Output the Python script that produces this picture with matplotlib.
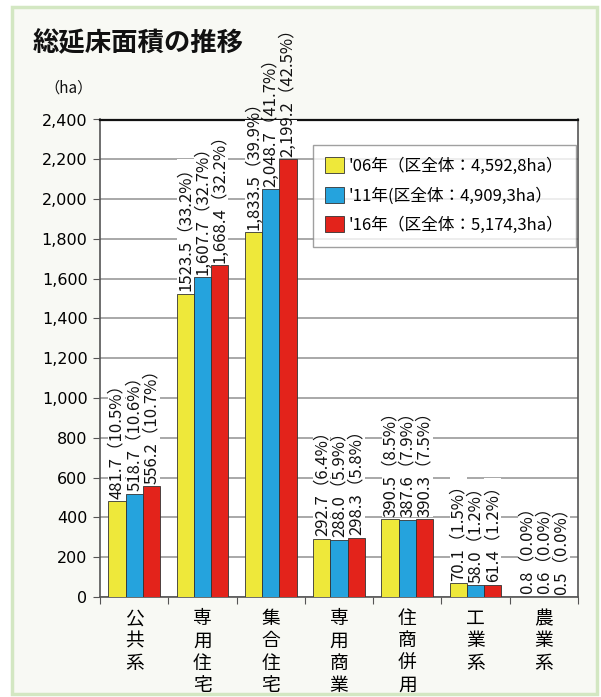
import matplotlib
matplotlib.use("Agg")
import matplotlib.pyplot as plt
from matplotlib.patches import Rectangle
import numpy as np

plt.rcParams['font.family'] = ['Noto Sans CJK JP', 'DejaVu Sans']

categories = ["公\n共\n系", "専\n用\n住\n宅", "集\n合\n住\n宅", "専\n用\n商\n業", "住\n商\n併\n用", "工\n業\n系", "農\n業\n系"]
series_names = ["'06年（区全体：4,592,8ha）", "'11年(区全体：4,909,3ha）", "'16年（区全体：5,174,3ha）"]
v06 = [481.7, 1523.5, 1833.5, 292.7, 390.5, 70.1, 0.8]
v11 = [518.7, 1607.7, 2048.7, 288.0, 387.6, 58.0, 0.6]
v16 = [556.2, 1668.4, 2199.2, 298.3, 390.3, 61.4, 0.5]
l06 = ["481.7（10.5%）", "1523.5（33.2%）", "1,833.5（39.9%）", "292.7（6.4%）", "390.5（8.5%）", "70.1（1.5%）", "0.8（0.0%）"]
l11 = ["518.7（10.6%）", "1,607.7（32.7%）", "2,048.7（41.7%）", "288.0（5.9%）", "387.6（7.9%）", "58.0（1.2%）", "0.6（0.0%）"]
l16 = ["556.2（10.7%）", "1,668.4（32.2%）", "2,199.2（42.5%）", "298.3（5.8%）", "390.3（7.5%）", "61.4（1.2%）", "0.5（0.0%）"]
yticks = [0, 200, 400, 600, 800, 1000, 1200, 1400, 1600, 1800, 2000, 2200, 2400]
ytick_labels = ["0", "200", "400", "600", "800", "1,000", "1,200", "1,400", "1,600", "1,800", "2,000", "2,200", "2,400"]
colors = ["#EEE83A", "#25A3DD", "#E3231B"]

W, H = 601, 697
fig = plt.figure(figsize=(W / 100, H / 100), dpi=100)
fig.patch.set_facecolor("white")
# outer panel with green border
fig.patches.append(Rectangle((12 / W, 1 - 694 / H), (597 - 12) / W, (694 - 7) / H,
                             transform=fig.transFigure, facecolor="#F8F9F4",
                             edgecolor="#D3E7C2", linewidth=2.5, zorder=-10))

ax_w, ax_h = 478, 477.5
ax = fig.add_axes([100 / W, 1 - 597 / H, ax_w / W, ax_h / H])
ax.set_zorder(1)
ax.set_facecolor("white")

x = np.arange(len(categories)) + 0.5
bw = 0.253
series = [v06, v11, v16]
labels = [l06, l11, l16]
for i, (vals, labs) in enumerate(zip(series, labels)):
    xs = x + (i - 1) * bw
    ax.bar(xs, vals, width=bw, color=colors[i], edgecolor="#333333", linewidth=0.6,
           zorder=3, label=series_names[i])
    for xi, v, lab in zip(xs, vals, labs):
        t = ax.text(xi, v + 12, lab, rotation=90, ha="center", va="bottom", fontsize=12,
                    color="#111111", zorder=4, clip_on=False,
                    bbox=dict(facecolor="white", edgecolor="none", pad=0.0))
        bp = t.get_bbox_patch()
        bp.set_clip_box(ax.bbox)
        bp.set_clip_on(True)

ax.set_xlim(0, len(categories))
ax.set_ylim(0, 2400)
ax.set_yticks(yticks)
ax.set_yticklabels(ytick_labels, fontsize=11.5, family=['DejaVu Sans'])
ax.yaxis.grid(True, color="#999999", linewidth=1.2, zorder=0)
ax.set_axisbelow(True)

ax.set_xticks(np.arange(len(categories) + 1))
ax.set_xticklabels([])
ax.set_xticks(x, minor=True)
ax.set_xticklabels(categories, minor=True, fontsize=13.5, linespacing=1.08, va="top")
ax.tick_params(axis="x", which="minor", length=0, pad=8)
ax.tick_params(axis="x", which="major", length=5, color="#555555", direction="out")
ax.tick_params(axis="y", length=5, color="#555555", direction="out", pad=4)

for s in ["left", "right", "bottom"]:
    ax.spines[s].set_color("#555555")
    ax.spines[s].set_linewidth(1.2)
ax.spines["top"].set_color("#111111")
ax.spines["top"].set_linewidth(1.6)

leg = ax.legend(loc="upper right", bbox_to_anchor=(1.0 - 2 / ax_w, 1 - 25 / ax_h),
                borderaxespad=0.0,
                fontsize=12, frameon=True, fancybox=False, edgecolor="#888888",
                handlelength=1.1, handleheight=1.1, handletextpad=0.3,
                labelspacing=0.72, borderpad=0.75)
leg.get_frame().set_linewidth(1.0)
leg.set_zorder(5)

fig.text(33 / W, 1 - 44 / H, "総延床面積の推移", fontsize=19, fontweight="bold",
         ha="left", va="center", color="#111111")
fig.text(44 / W, 1 - 88 / H, "（ha）", fontsize=11, ha="left", va="center", color="#111111")

fig.savefig("out.png", dpi=100, facecolor=fig.get_facecolor())
